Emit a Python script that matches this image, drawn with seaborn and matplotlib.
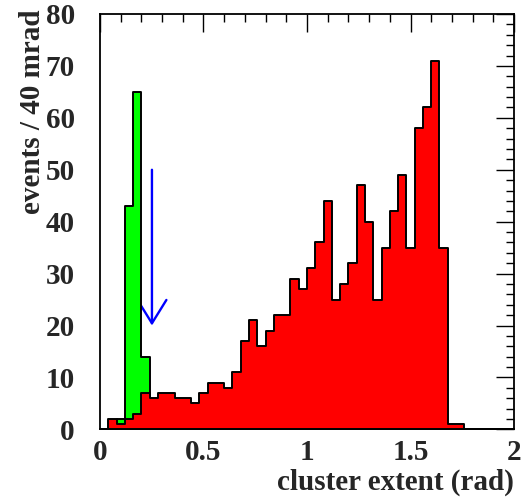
import numpy as np
import pandas as pd
import matplotlib
matplotlib.use("Agg")
import matplotlib.pyplot as plt
import seaborn as sns
from matplotlib.ticker import MultipleLocator

# --- data: counts per 40 mrad bin, 0 .. 2 rad ---
bin_width = 0.04
bin_edges = [round(i * bin_width, 2) for i in range(51)]

red_counts = [0, 2, 1, 2, 3, 7, 6, 7, 7, 6,
              6, 5, 7, 9, 9, 8, 11, 17, 21, 16,
              19, 22, 22, 29, 27, 31, 36, 44, 25, 28,
              32, 47, 40, 25, 35, 42, 49, 35, 58, 62,
              71, 35, 1, 1, 0, 0, 0, 0, 0, 0]
green_counts = [0, 0, 2, 43, 65, 14] + [0] * 44

# cut marker (blue arrow)
arrow_x = 0.251
arrow_y_start = 50
arrow_y_tip = 20

centers = [e + bin_width / 2 for e in bin_edges[:-1]]
df = pd.DataFrame({"extent": centers, "red": red_counts, "green": green_counts})

sns.set_style("white")
plt.rcParams["font.family"] = ["Liberation Serif", "DejaVu Serif"]
plt.rcParams["font.weight"] = "bold"

fs = 21

fig = plt.figure(figsize=(5.31, 4.98), dpi=100)
ax = fig.add_axes([0.1883, 0.1378, 0.7797, 0.8341])

# arrow sits behind the histograms
ax.annotate("", xy=(arrow_x, arrow_y_tip), xytext=(arrow_x, arrow_y_start),
            arrowprops=dict(arrowstyle="->, head_length=1.68, head_width=1.04",
                            color="#0000ff", lw=1.7, shrinkA=0, shrinkB=0,
                            mutation_scale=10),
            zorder=1)

sns.histplot(data=df, x="extent", weights="green", bins=bin_edges,
             element="step", fill=True, color="#00ff00", alpha=1,
             edgecolor="black", linewidth=1.4, ax=ax, zorder=2)
sns.histplot(data=df, x="extent", weights="red", bins=bin_edges,
             element="step", fill=True, color="#ff0000", alpha=1,
             edgecolor="black", linewidth=1.4, ax=ax, zorder=3)

ax.set_xlim(0, 2)
ax.set_ylim(0, 80)

ax.xaxis.set_major_locator(MultipleLocator(0.5))
ax.xaxis.set_minor_locator(MultipleLocator(0.1))
ax.yaxis.set_major_locator(MultipleLocator(10))
ax.yaxis.set_minor_locator(MultipleLocator(2))
ax.xaxis.set_major_formatter(lambda v, p: f"{v:g}")

ax.tick_params(which="both", direction="in", top=True, right=True,
               width=1.0, color="black")
ax.tick_params(which="major", length=13)
ax.tick_params(which="minor", length=6)
ax.tick_params(axis="x", which="major", pad=7, labelsize=fs)
ax.tick_params(axis="y", which="major", pad=18, labelsize=fs)

for spine in ax.spines.values():
    spine.set_linewidth(1.3)
    spine.set_color("black")

ax.set_xlabel("cluster extent (rad)", fontsize=fs, fontweight="bold", ha="right")
ax.xaxis.set_label_coords(1.0, -0.094)
ax.set_ylabel("events / 40 mrad", fontsize=fs, fontweight="bold", ha="right")
ax.yaxis.set_label_coords(-0.13, 1.01)

fig.savefig("out.png", dpi=100)
